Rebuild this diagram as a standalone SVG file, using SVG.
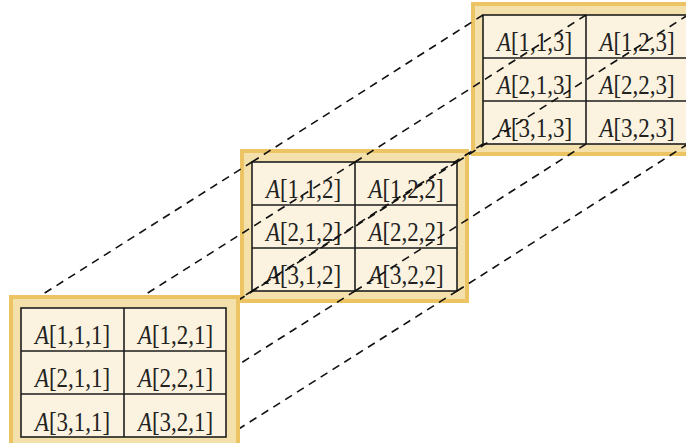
<svg xmlns="http://www.w3.org/2000/svg" width="686" height="443" viewBox="0 0 686 443">
<defs>
<style>
.frame{fill:#f4e0aa;stroke:#ecc463;stroke-width:4}
.cell{fill:#fbf3df;stroke:#1e1e1e;stroke-width:1.6}
.grid{stroke:#1e1e1e;stroke-width:1.6;fill:none}
.lbl{font-family:"Liberation Serif","Times New Roman",serif;font-size:28px;fill:#222;text-anchor:middle}
.it{font-style:italic}
.dash{stroke:#111;stroke-width:1.6;stroke-dasharray:8 6;fill:none}
</style>
</defs>
<rect x="0" y="0" width="686" height="443" fill="#ffffff"/>

<g id="table3">
<rect class="frame" x="473" y="4" width="225" height="150"/>
<rect class="cell" x="483" y="15" width="205" height="129"/>
<path class="grid" d="M586 15V144M483 58H688M483 101H688"/>
<text class="lbl" transform="translate(534.5 51) scale(0.82 1)"><tspan class="it">A</tspan>[1,1,3]</text>
<text class="lbl" transform="translate(637 51) scale(0.82 1)"><tspan class="it">A</tspan>[1,2,3]</text>
<text class="lbl" transform="translate(534.5 94) scale(0.82 1)"><tspan class="it">A</tspan>[2,1,3]</text>
<text class="lbl" transform="translate(637 94) scale(0.82 1)"><tspan class="it">A</tspan>[2,2,3]</text>
<text class="lbl" transform="translate(534.5 137) scale(0.82 1)"><tspan class="it">A</tspan>[3,1,3]</text>
<text class="lbl" transform="translate(637 137) scale(0.82 1)"><tspan class="it">A</tspan>[3,2,3]</text>
</g>

<g id="table2">
<rect class="frame" x="242" y="151" width="225" height="150"/>
<rect class="cell" x="252" y="162" width="205" height="129"/>
<path class="grid" d="M355 162V291M252 205H457M252 248H457"/>
<text class="lbl" transform="translate(303.5 198) scale(0.82 1)"><tspan class="it">A</tspan>[1,1,2]</text>
<text class="lbl" transform="translate(406 198) scale(0.82 1)"><tspan class="it">A</tspan>[1,2,2]</text>
<text class="lbl" transform="translate(303.5 241) scale(0.82 1)"><tspan class="it">A</tspan>[2,1,2]</text>
<text class="lbl" transform="translate(406 241) scale(0.82 1)"><tspan class="it">A</tspan>[2,2,2]</text>
<text class="lbl" transform="translate(303.5 284) scale(0.82 1)"><tspan class="it">A</tspan>[3,1,2]</text>
<text class="lbl" transform="translate(406 284) scale(0.82 1)"><tspan class="it">A</tspan>[3,2,2]</text>
</g>

<g id="connectors">
<path class="dash" d="M21 308L252 162"/>
<path class="dash" d="M124 308L355 162"/>
<path class="dash" d="M226 308L457 162"/>
<path class="dash" d="M21 437L252 291"/>
<path class="dash" d="M124 437L355 291"/>
<path class="dash" d="M226 437L457 291"/>
<path class="dash" d="M252 162L483 15"/>
<path class="dash" d="M355 162L586 15"/>
<path class="dash" d="M457 162L688 15"/>
<path class="dash" d="M252 291L483 144"/>
<path class="dash" d="M355 291L586 144"/>
<path class="dash" d="M457 291L688 144"/>
</g>

<g id="table1">
<rect class="frame" x="11" y="297" width="227" height="152"/>
<rect class="cell" x="21" y="308" width="205" height="129"/>
<path class="grid" d="M124 308V437M21 351H226M21 394H226"/>
<text class="lbl" transform="translate(72.5 344) scale(0.82 1)"><tspan class="it">A</tspan>[1,1,1]</text>
<text class="lbl" transform="translate(175.5 344) scale(0.82 1)"><tspan class="it">A</tspan>[1,2,1]</text>
<text class="lbl" transform="translate(72.5 387) scale(0.82 1)"><tspan class="it">A</tspan>[2,1,1]</text>
<text class="lbl" transform="translate(175.5 387) scale(0.82 1)"><tspan class="it">A</tspan>[2,2,1]</text>
<text class="lbl" transform="translate(72.5 431) scale(0.82 1)"><tspan class="it">A</tspan>[3,1,1]</text>
<text class="lbl" transform="translate(175.5 431) scale(0.82 1)"><tspan class="it">A</tspan>[3,2,1]</text>
</g>
</svg>
